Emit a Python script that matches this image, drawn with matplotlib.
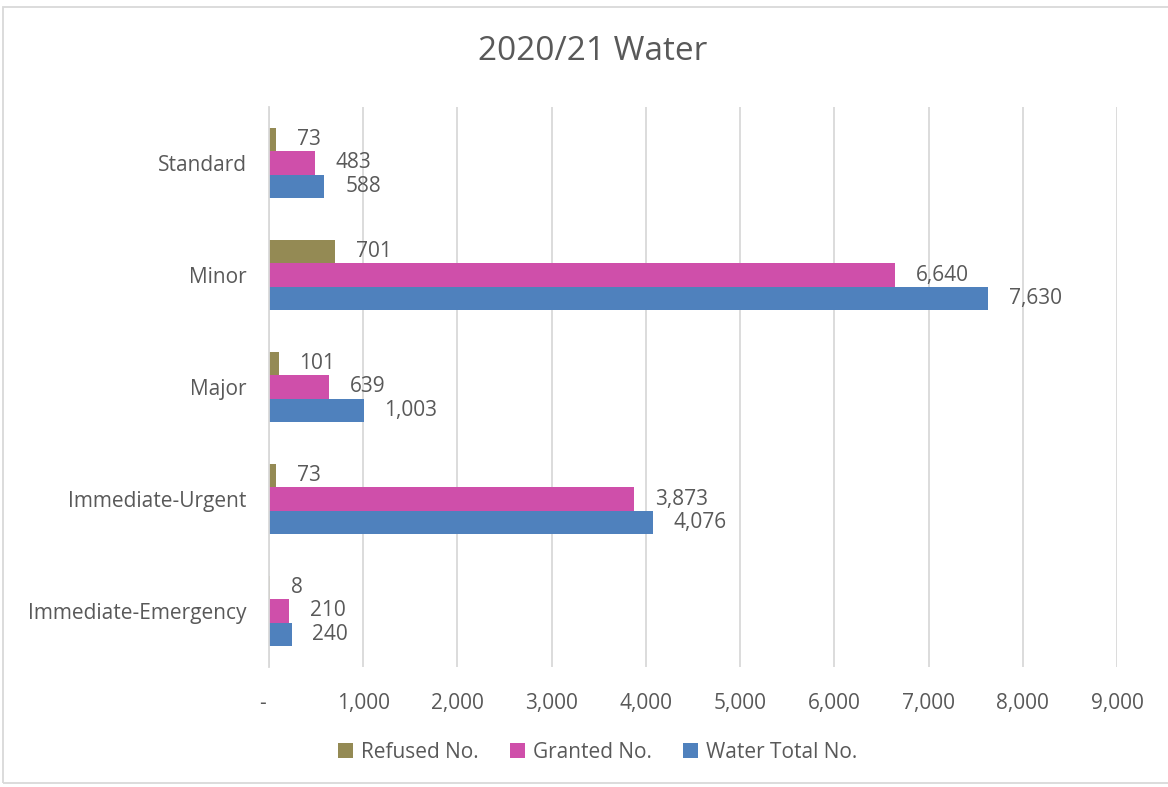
import matplotlib.pyplot as plt
import matplotlib.patches as mpatches
import numpy as np

plt.rcParams['font.family'] = ['Open Sans', 'DejaVu Sans']

categories = ['Standard', 'Minor', 'Major', 'Immediate-Urgent', 'Immediate-Emergency']
refused = [73, 701, 101, 73, 8]
granted = [483, 6640, 639, 3873, 210]
total = [588, 7630, 1003, 4076, 240]
series_names = ['Refused No.', 'Granted No.', 'Water Total No.']
colors = ['#948A54', '#CF4FAA', '#4F81BD']
xticks = [0, 1000, 2000, 3000, 4000, 5000, 6000, 7000, 8000, 9000]
xtick_labels = ['-  ', '1,000', '2,000', '3,000', '4,000', '5,000', '6,000', '7,000', '8,000', '9,000']

text_color = '#595959'
grid_color = '#D9D9D9'

fig = plt.figure(figsize=(11.68, 7.87), dpi=100)
ax = fig.add_axes([269 / 1168, 1 - 667 / 787, 848 / 1168, 560 / 787])

y = np.arange(len(categories))
h = 0.208
handles = []
for i, (vals, name, col) in enumerate(zip([refused, granted, total], series_names, colors)):
    pos = y + (i - 1) * h
    bars = ax.barh(pos, vals, height=h, color=col, label=name, zorder=3)
    handles.append(bars)
    for p, v in zip(pos, vals):
        ax.annotate(f'{v:,}', xy=(v, p), xytext=(15, 0), textcoords='offset points',
                    ha='left', va='center', fontsize=15, color=text_color)

ax.set_xlim(0, 9000)
ax.set_ylim(len(categories) - 0.5, -0.5)
ax.set_yticks(y)
ax.set_yticklabels(categories, fontsize=15, color=text_color)
ax.set_xticks(xticks)
ax.set_xticklabels(xtick_labels, fontsize=15, color=text_color)
ax.tick_params(axis='y', length=0, pad=16)
ax.tick_params(axis='x', length=0, pad=19)
ax.grid(axis='x', color=grid_color, linewidth=1.3, zorder=0)
for s in ['top', 'right', 'bottom']:
    ax.spines[s].set_visible(False)
ax.spines['left'].set_color(grid_color)
ax.spines['left'].set_linewidth(1.3)
ax.spines['left'].set_zorder(4)

fig.text(593 / 1168, 1 - 52 / 787, '2020/21 Water', ha='center', va='center',
         fontsize=24, color=text_color)

fig.legend(handles=handles, loc='center', bbox_to_anchor=(598 / 1168, 1 - 752 / 787),
           ncol=3, frameon=False, fontsize=15, labelcolor=text_color,
           handlelength=0.7, handleheight=0.7, handletextpad=0.4, columnspacing=1.5)

border = mpatches.Rectangle((3 / 1168, 1 - 783 / 787), 1.2, 776 / 787, transform=fig.transFigure,
                            fill=False, edgecolor=grid_color, linewidth=1.3)
fig.patches.append(border)

fig.savefig('out.png', dpi=100)
